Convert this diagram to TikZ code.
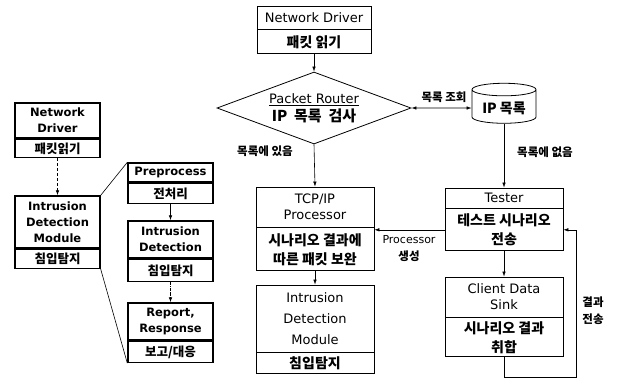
\documentclass[tikz,border=0pt]{standalone}
\usepackage{fontspec}
\setmainfont{DejaVu Sans}
\newfontfamily\kr{Noto Sans CJK KR}
\usetikzlibrary{positioning, shapes.geometric, arrows.meta}

\newcommand{\entext}{\fontsize{13}{16}\selectfont}
\newcommand{\kotext}{\kr\bfseries\fontsize{14}{19}\selectfont}
\newcommand{\bigkotext}{\kr\bfseries\fontsize{15}{19}\selectfont}
\newcommand{\leftentext}{\bfseries\fontsize{11.5}{16}\selectfont}
\newcommand{\leftkotext}{\kr\bfseries\fontsize{12.5}{16}\selectfont}
\newcommand{\labeltext}{\kr\bfseries\fontsize{11.5}{17}\selectfont}
\newcommand{\labelen}{\rmfamily\mdseries\fontsize{11}{17}\selectfont}

\begin{document}
\begin{tikzpicture}[x=1pt, y=-1pt,
        headbox/.style={draw, line width=0.8pt, minimum width=118pt, inner sep=1pt, align=center, font=\entext},
        bodybox/.style={draw, line width=0.8pt, minimum width=118pt, inner sep=1pt, align=center, font=\kotext},
        lefthead/.style={draw, line width=1.4pt, minimum width=85pt, inner sep=1pt, align=center, font=\leftentext},
        leftbody/.style={draw, line width=1.4pt, minimum width=85pt, inner sep=1pt, align=center, font=\leftkotext},
        arrow/.style={-{Latex[length=5pt, width=3.5pt]}, line width=0.6pt},
        note/.style={font=\labeltext, align=center},
]
        \useasboundingbox (0,0) rectangle (617,378);

        % main flow
        \node[headbox, minimum width=114pt, minimum height=23pt] (nd) at (314,17.5) {Network Driver};
        \node[bodybox, minimum width=114pt, minimum height=24pt] (ndk) [below=0pt of nd] {패킷 읽기};
        \node[diamond, draw, line width=0.8pt, aspect=2.6, inner sep=0pt, minimum width=194pt, minimum height=72pt, align=center, font=\entext] (router) at (314,108) {\raisebox{-3pt}{\underline{Packet Router}}\\[2pt]{\bigkotext IP\ \ 목록\ \ 검사}};
        \node[cylinder, draw, line width=0.8pt, shape border rotate=90, aspect=0.25, minimum width=64pt, minimum height=40pt, font=\kotext] (ipdb) at (504,108) {IP 목록};

        \node[headbox, minimum height=40pt] (tcp) at (315,207) {TCP/IP\\Processor};
        \node[bodybox, minimum height=43pt] (tcpk) [below=0pt of tcp] {시나리오 결과에\\따른 패킷 보완};
        \node[headbox, minimum height=67pt] (idm) at (315,318.5) {Intrusion\\[5pt]Detection\\[5pt]Module};
        \node[bodybox, minimum height=21pt] (idmk) [below=0pt of idm] {침입탐지};

        \node[headbox, minimum height=20pt] (tester) at (504,198) {Tester};
        \node[bodybox, minimum height=42pt] (testerk) [below=0pt of tester] {테스트 시나리오\\전송};
        \node[headbox, minimum height=40pt] (sink) at (504,297) {Client Data\\Sink};
        \node[bodybox, minimum height=39pt] (sinkk) [below=0pt of sink] {시나리오 결과\\취합};

        \node[note] (lookup) at (444,97) {목록 조회};
        \node[note] (inlist) at (265,151) {목록에 있음};
        \node[note] (notinlist) at (545,152) {목록에 없음};
        \node[note] (makeproc) at (409,249) {{\labelen Processor}\\생성};
        \node[note] (sendres) at (593,311) {결과\\전송};
        \coordinate (loopend) at (576,377);

        \draw[arrow] (ndk.south) -- (router.north);
        \draw[{Latex[length=5pt, width=3.5pt]}-{Latex[length=5pt, width=3.5pt]}, line width=0.6pt] (router.east) -- (ipdb.west);
        \draw[arrow] (router.south) -- (tcp.north);
        \draw[arrow] (ipdb.south) -- (tester.north);
        \draw[arrow] (tcpk.south) -- (idm.north);
        \draw[arrow] (testerk.west) -- (testerk.west -| tcpk.east);
        \draw[arrow] (testerk.south) -- (sink.north);
        \draw[arrow] (sinkk.south) |- (loopend) |- (testerk.east);

        % detail of the module
        \node[lefthead, minimum height=35pt] (lnd) at (57.5,120.5) {Network\\Driver};
        \node[leftbody, minimum height=18pt] (lndk) [below=0pt of lnd] {패킷읽기};
        \node[lefthead, minimum height=52pt] (lidm) at (57.5,222) {Intrusion\\Detection\\Module};
        \node[leftbody, minimum height=19pt] (lidmk) [below=0pt of lidm] {침입탐지};

        \node[lefthead, minimum height=19pt] (pre) at (170.5,172.5) {Preprocess};
        \node[leftbody, minimum height=20pt] (prek) [below=0pt of pre] {전처리};
        \node[lefthead, minimum height=37pt] (det) at (170.5,239.5) {Intrusion\\Detection};
        \node[leftbody, minimum height=22pt] (detk) [below=0pt of det] {침입탐지};
        \node[lefthead, minimum height=37pt] (rep) at (170.5,321.5) {Report,\\Response};
        \node[leftbody, minimum height=21pt] (repk) [below=0pt of rep] {보고/대응};

        \draw[arrow, densely dashed] (lndk.south) -- (lidm.north);
        \draw[arrow] (prek.south) -- (det.north);
        \draw[arrow, densely dash dot] (detk.south) -- (rep.north);
        \draw[line width=0.6pt] (lidm.north east) -- (pre.north west);
        \draw[line width=0.6pt] (lidmk.south east) -- (repk.south west);
\end{tikzpicture}
\end{document}
